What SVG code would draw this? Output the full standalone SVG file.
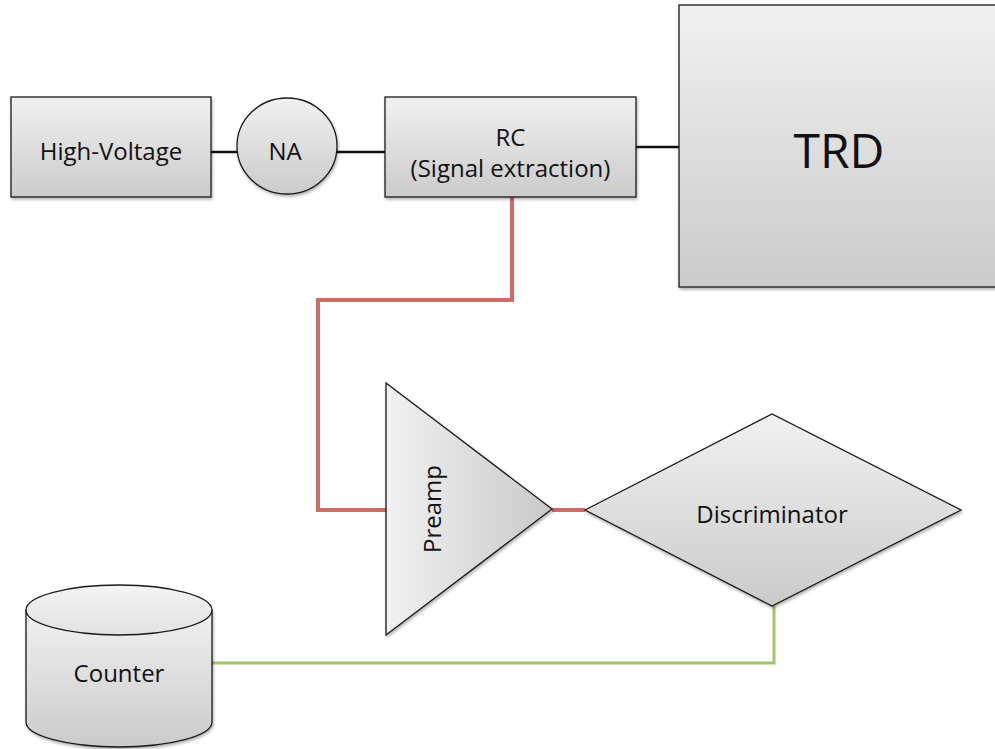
<svg xmlns="http://www.w3.org/2000/svg" width="995" height="749" viewBox="0 0 995 749">
  <defs>
    <linearGradient id="gV" x1="0" y1="0" x2="0" y2="1">
      <stop offset="0" stop-color="#f1f1f1"/>
      <stop offset="1" stop-color="#cbcbcb"/>
    </linearGradient>
    <linearGradient id="gH" x1="0" y1="0" x2="1" y2="0">
      <stop offset="0" stop-color="#f1f1f1"/>
      <stop offset="1" stop-color="#c9c9c9"/>
    </linearGradient>
    <linearGradient id="gTop" x1="0" y1="0" x2="0" y2="1">
      <stop offset="0" stop-color="#f4f4f4"/>
      <stop offset="1" stop-color="#e2e2e2"/>
    </linearGradient>
    <filter id="shadow" x="-10%" y="-10%" width="130%" height="130%">
      <feDropShadow dx="1" dy="2" stdDeviation="1.5" flood-color="#000" flood-opacity="0.3"/>
    </filter>
  </defs>
  <style>
    .shape { stroke: #1a1a1a; stroke-width: 1.3; filter: url(#shadow); }
    .label { font-family: "Open Sans", "Liberation Sans", sans-serif; font-size: 24px; fill: #111; text-anchor: middle; }
    .wire { fill: none; stroke: #111; stroke-width: 2.5; }
    .sig { fill: none; stroke: #d06a64; stroke-width: 4; }
    .out { fill: none; stroke: #a4c66b; stroke-width: 3; }
  </style>
  <rect width="995" height="749" fill="#ffffff"/>

  <!-- connectors -->
  <g id="connectors">
    <line class="wire" x1="211" y1="152" x2="237" y2="152"/>
    <line class="wire" x1="337" y1="152" x2="385" y2="152"/>
    <line class="wire" x1="636" y1="147" x2="679" y2="147"/>
    <path class="sig" d="M512,197 V300 H318 V510 H386"/>
    <path class="sig" d="M552,510 H585"/>
    <path class="out" d="M211,663 H774 V606"/>
  </g>

  <g id="high-voltage">
    <rect class="shape" x="11" y="97" width="200" height="100" fill="url(#gV)"/>
    <text class="label" x="111" y="160">High-Voltage</text>
  </g>

  <g id="na">
    <ellipse class="shape" cx="287" cy="146" rx="50" ry="48" fill="url(#gV)"/>
    <text class="label" x="285" y="160">NA</text>
  </g>

  <g id="rc">
    <rect class="shape" x="385" y="97" width="251" height="100" fill="url(#gV)"/>
    <text class="label" x="510.5" y="146">RC</text>
    <text class="label" x="510.5" y="177">(Signal extraction)</text>
  </g>

  <g id="trd">
    <rect class="shape" x="679" y="5" width="330" height="282" fill="url(#gV)"/>
    <text class="label" x="839" y="168" style="font-size:48px">TRD</text>
  </g>

  <g id="preamp">
    <polygon class="shape" points="386,383 552,509 386,635" fill="url(#gH)"/>
    <text class="label" transform="translate(441,509) rotate(-90)">Preamp</text>
  </g>

  <g id="discriminator">
    <polygon class="shape" points="585,510 772,414 961,510 772,606" fill="url(#gV)"/>
    <text class="label" x="772" y="523">Discriminator</text>
  </g>

  <g id="counter">
    <path class="shape" d="M26,610 V722 A93,25 0 0 0 212,722 V610 Z" fill="url(#gV)"/>
    <ellipse cx="119" cy="610" rx="93" ry="25" fill="url(#gTop)" stroke="#1a1a1a" stroke-width="1.3"/>
    <text class="label" x="119" y="682">Counter</text>
  </g>
</svg>
